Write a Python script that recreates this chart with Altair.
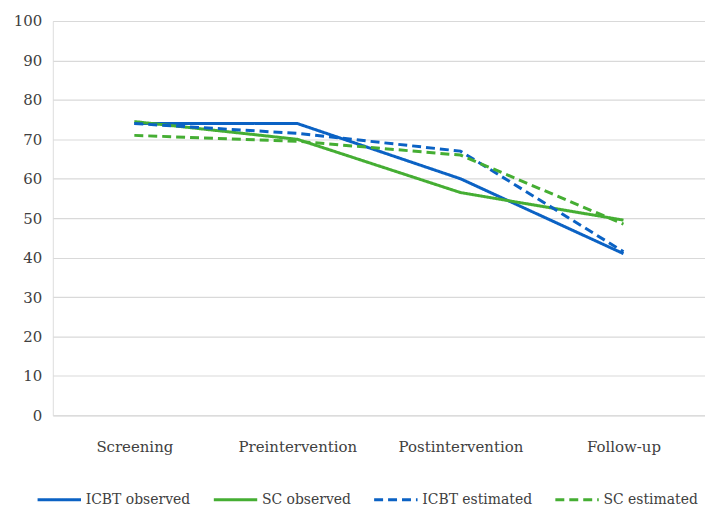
import altair as alt
import pandas as pd

timepoints = ["Screening", "Preintervention", "Postintervention", "Follow-up"]
series_names = ["ICBT observed", "SC observed", "ICBT estimated", "SC estimated"]
icbt_observed = [74.0, 74.0, 60.0, 41.0]
sc_observed = [74.5, 70.0, 56.5, 49.5]
icbt_estimated = [74.0, 71.5, 67.0, 41.5]
sc_estimated = [71.0, 69.5, 66.0, 48.5]

rows = []
for name, vals in zip(series_names, [icbt_observed, sc_observed, icbt_estimated, sc_estimated]):
    for t, v in zip(timepoints, vals):
        rows.append({"Time": t, "Value": v, "Series": name})
df = pd.DataFrame(rows)

FONT = "DejaVu Serif"
blue = "#0B62C4"
green = "#45AE33"
txt = "#404040"

chart = alt.Chart(df).mark_line(strokeWidth=3).encode(
    x=alt.X("Time:N", sort=timepoints, title=None,
            scale=alt.Scale(paddingInner=0, paddingOuter=0.01),
            axis=alt.Axis(labelAngle=0, domain=False, ticks=False, labelPadding=24,
                          labelFontSize=15, labelColor=txt, labelFont=FONT)),
    y=alt.Y("Value:Q", title=None, scale=alt.Scale(domain=[0, 100]),
            axis=alt.Axis(values=list(range(0, 101, 10)), domain=False, ticks=False,
                          labelPadding=11, labelFontSize=15, labelColor=txt,
                          labelFont=FONT, gridColor="#D9D9D9", gridWidth=1.2)),
    color=alt.Color("Series:N", sort=series_names,
                    scale=alt.Scale(domain=series_names, range=[blue, green, blue, green]),
                    legend=alt.Legend(title=None, orient="none", direction="horizontal",
                                      legendX=-17, legendY=457, padding=0,
                                      symbolType="stroke", symbolSize=1900, symbolStrokeWidth=3,
                                      labelFont=FONT, labelFontSize=14, labelColor=txt,
                                      columnPadding=16, labelOffset=3)),
    strokeDash=alt.StrokeDash("Series:N", sort=series_names,
                              scale=alt.Scale(domain=series_names,
                                              range=[[1, 0], [1, 0], [9, 5], [9, 5]]),
                              legend=None),
).properties(width=655, height=396).configure_view(stroke=None).configure(
    padding={"left": 5, "top": 5, "right": 0, "bottom": 0}
)

chart.save("out.html", embed_options={"renderer": "svg", "actions": False})
